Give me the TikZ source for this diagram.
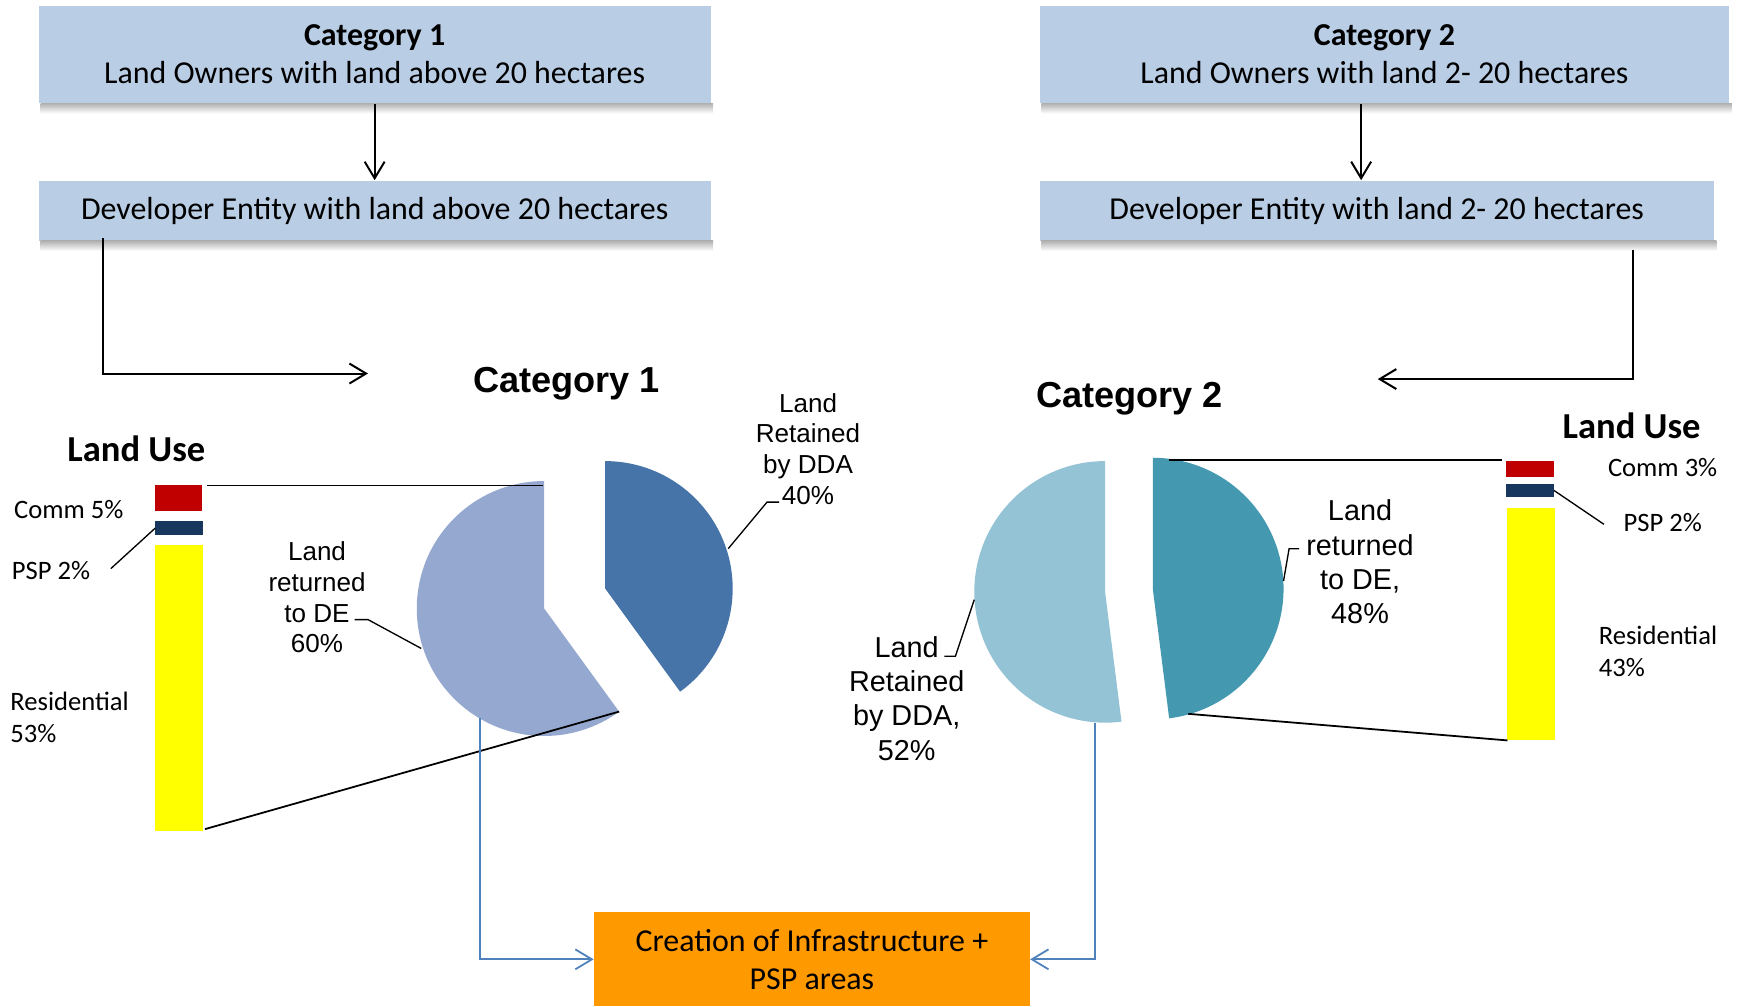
\documentclass[tikz,border=0pt]{standalone}
\usepackage{fontspec}
\setmainfont{Carlito}
\newfontfamily\arialf{Liberation Sans}
\usetikzlibrary{arrows.meta}
\definecolor{boxblue}{HTML}{B9CDE5}
\definecolor{pieAl}{HTML}{95A9D0}
\definecolor{pieAd}{HTML}{4674A8}
\definecolor{pieBl}{HTML}{93C3D4}
\definecolor{pieBd}{HTML}{4499B0}
\definecolor{orangebox}{HTML}{FF9900}
\definecolor{commred}{HTML}{C00000}
\definecolor{pspnavy}{HTML}{17375E}
\definecolor{resyellow}{HTML}{FFFF00}
\definecolor{linkblue}{HTML}{4F81BD}
\begin{document}
\begin{tikzpicture}[x=0.5pt,y=0.5pt,
  topbox/.style={fill=boxblue, inner sep=0pt, align=center, font=\fontsize{14.4}{17}\selectfont},
  arr/.style={line width=0.9pt, -{Straight Barb[length=7.5pt,width=9pt,line width=0.9pt]}},
  bluearr/.style={draw=linkblue, line width=0.8pt, -{Straight Barb[length=7.5pt,width=9pt,line width=0.8pt]}},
  leader/.style={line width=0.6pt},
  link/.style={line width=0.8pt},
  pielblA/.style={font=\arialf\fontsize{11.75}{13.8}\selectfont, align=center, inner sep=0pt},
  pielblB/.style={font=\arialf\fontsize{13}{15.5}\selectfont, align=center, inner sep=0pt},
  usetext/.style={font=\fontsize{12}{14.5}\selectfont, inner sep=0pt},
  usetitle/.style={font=\bfseries\fontsize{16.5}{19}\selectfont, inner sep=0pt},
  cattitle/.style={font=\arialf\bfseries\fontsize{16.3}{19}\selectfont, inner sep=0pt},
  barseg/.style={inner sep=0pt, outer sep=0pt, minimum width=21.5pt},
  shadowbox/.style={top color=black!30, bottom color=white}
]
\path[use as bounding box] (0,0) rectangle (1568,-908);

% ---------- top boxes ----------
\node[topbox, minimum width=303pt, minimum height=44pt] (b1) at (338,-49)
  {\textbf{Category 1}\\Land Owners with land above 20 hectares};
\node[topbox, minimum width=303pt, minimum height=27pt] (b2) at (338,-190)
  {Developer Entity with land above 20 hectares};
\node[topbox, minimum width=311pt, minimum height=44pt] (b3) at (1249,-49)
  {\textbf{Category 2}\\Land Owners with land 2- 20 hectares};
\node[topbox, minimum width=304pt, minimum height=27pt] (b4) at (1242,-190)
  {Developer Entity with land 2- 20 hectares};
\foreach \b in {b1,b2,b3,b4}{
  \shade[shadowbox] ([xshift=1pt]\b.south west) rectangle ([xshift=1pt,yshift=-4.5pt]\b.south east);
}

% ---------- flow arrows ----------
\draw[arr] (b1.south) -- (b2.north);
\coordinate (x34) at (1228,0);
\draw[arr] (b3.south -| x34) -- (b4.north -| x34);
\coordinate (b2out) at (93,-215);
\coordinate (cat1in) at (332,-337);
\draw[arr] (b2out) |- (cat1in);
\coordinate (b4out) at (1473,-226);
\coordinate (cat2in) at (1243,-342);
\draw[arr] (b4out) |- (cat2in);

% ---------- titles ----------
\node[cattitle] (cat1) at (511,-346) {Category 1};
\node[cattitle] (cat2) at (1019,-360) {Category 2};
\node[usetitle] (lu1) at (123,-405) {Land Use};
\node[usetitle] (lu2) at (1472,-384) {Land Use};

% ---------- pie 1 ----------
\coordinate (p1c) at (491,-549);
\coordinate (p1d) at (546,-531);
\fill[pieAl] (p1c) -- ++(90:115) arc[start angle=90, end angle=306, radius=115] -- cycle;
\fill[pieAd] (p1d) -- ++(-54:115) arc[start angle=-54, end angle=90, radius=115] -- cycle;

% ---------- pie 2 ----------
\coordinate (p2c) at (997,-534);
\coordinate (p2d) at (1040,-531);
\fill[pieBl] (p2c) -- ++(90:118) arc[start angle=90, end angle=277.2, radius=118] -- cycle;
\fill[pieBd] (p2d) -- ++(-82.8:118) arc[start angle=-82.8, end angle=90, radius=118] -- cycle;

% ---------- pie labels ----------
\node[pielblA] (l1d) at (729,-405) {Land\\Retained\\by DDA\\40\%};
\node[pielblA] (l1l) at (286,-539) {Land\\returned\\to DE\\60\%};
\node[pielblB] (l2l) at (818,-630) {Land\\Retained\\by DDA,\\52\%};
\node[pielblB] (l2d) at (1227,-507) {Land\\returned\\to DE,\\48\%};
\draw[leader] (657,-495) -- (692,-453) -- (703,-453);
\draw[leader] (380,-585) -- (332,-559) -- (320,-559);
\draw[leader] (879,-541) -- (862,-592) -- (852,-592);
\draw[leader] (1158,-524) -- (1163,-495) -- (1172,-495);

% ---------- land use bars, left ----------
\node[barseg, fill=commred, minimum width=21pt, minimum height=11.5pt] (comm1) at (161,-449.5) {};
\node[barseg, fill=pspnavy, minimum height=6.5pt] (psp1) at (161.5,-476.5) {};
\node[barseg, fill=resyellow, minimum height=129pt] (res1) at (161.5,-621) {};
\node[usetext] (tc1) at (62,-460) {Comm 5\%};
\node[usetext] (tp1) at (46,-515) {PSP 2\%};
\node[usetext, align=left, anchor=west] (tr1) at (9,-647) {Residential\\53\%};
\draw[leader] (100,-513) -- (psp1.west);

% ---------- land use bars, right ----------
\node[barseg, fill=commred, minimum height=7pt] (comm2) at (1380.5,-423) {};
\node[barseg, fill=pspnavy, minimum height=5.5pt] (psp2) at (1380.5,-442.5) {};
\node[barseg, fill=resyellow, minimum height=105pt] (res2) at (1381.5,-563) {};
\node[usetext] (tc2) at (1500,-422) {Comm 3\%};
\node[usetext] (tp2) at (1500,-471) {PSP 2\%};
\node[usetext, align=left, anchor=west] (tr2) at (1442,-588) {Residential\\43\%};
\draw[leader] (psp2.east) -- (1447,-473);

% ---------- zoom lines ----------
\coordinate (p1top) at (490,-438);
\coordinate (p1bot) at (558.6,-642);
\coordinate (p2top) at (1055,-415);
\coordinate (p2bot) at (1072,-644);
\draw[link] ([xshift=2.5pt]comm1.north east) -- (p1top);
\draw[link] ([xshift=1pt,yshift=1pt]res1.south east) -- (p1bot);
\draw[link] (p2top) -- ([xshift=-2pt,yshift=0.5pt]comm2.north west);
\draw[link] (p2bot) -- (res2.south west);

% ---------- bottom box ----------
\node[fill=orangebox, inner sep=0pt, minimum width=196.5pt, minimum height=42.5pt,
      align=center, font=\fontsize{14.4}{17}\selectfont] (infra) at (732.5,-865.5)
  {Creation of Infrastructure +\\PSP areas};
\coordinate (p1out) at (433,-648);
\coordinate (p2out) at (988,-652);
\draw[bluearr] (p1out) |- (infra.west);
\draw[bluearr] (p2out) |- (infra.east);
\end{tikzpicture}
\end{document}
